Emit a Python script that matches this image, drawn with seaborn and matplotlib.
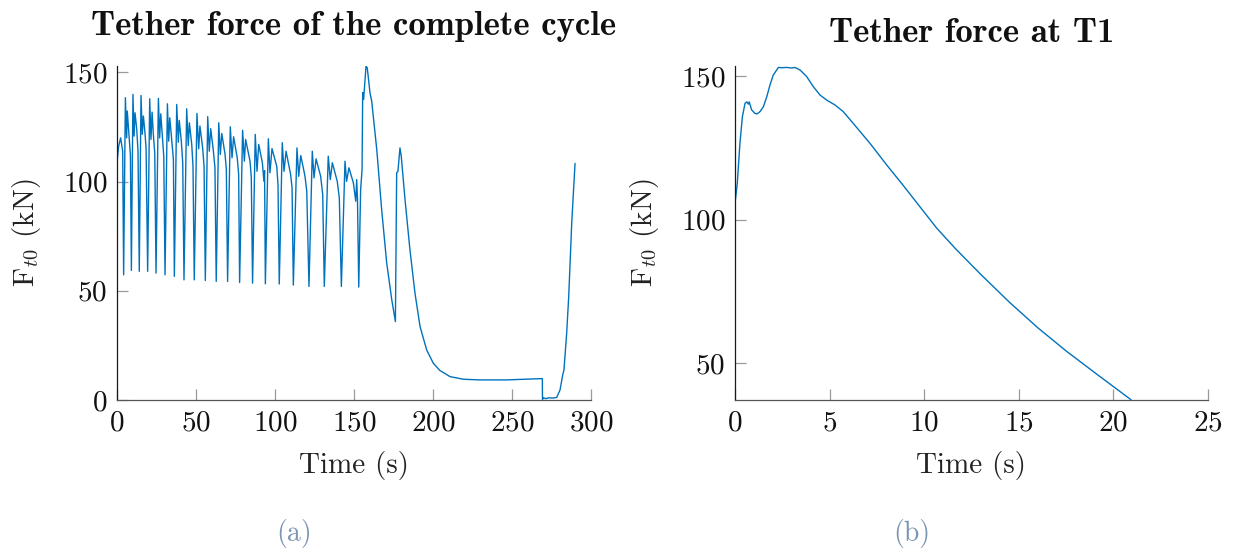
import matplotlib
matplotlib.use("Agg")
import matplotlib.pyplot as plt
import seaborn as sns
import pandas as pd

# Tether force over the complete cycle (s, kN)
cycle_time = [
    0.0, 1.0, 2.3, 3.6, 4.2,
    5.3, 6.1, 6.5, 7.4, 8.5, 9.1,
    10.1, 10.8, 11.4, 12.5, 13.3, 14.1,
    15.2, 16.0, 16.7, 17.7, 18.4, 19.4,
    20.7, 21.5, 22.2, 23.0, 23.9, 24.7,
    26.2, 27.0, 27.7, 28.7, 29.6, 30.4,
    31.9, 32.7, 33.4, 34.6, 35.7, 36.3,
    37.8, 38.8, 39.4, 40.7, 41.6, 42.4,
    44.1, 45.1, 45.8, 47.3, 48.1, 48.9,
    50.6, 51.7, 52.5, 54.2, 55.1, 55.9,
    57.4, 58.4, 59.3, 60.9, 62.0, 62.8,
    64.4, 65.4, 66.3, 68.4, 69.2, 70.0,
    71.7, 72.8, 73.8, 76.1, 77.0, 77.6,
    79.5, 80.6, 81.4, 84.2, 85.0, 85.8,
    87.5, 88.6, 89.7, 92.0, 93.0, 93.4, 93.9,
    95.8, 96.8, 98.1, 101.1, 101.9, 102.7,
    104.6, 105.7, 107.0, 109.9, 110.8, 111.6,
    113.9, 115.0, 116.3, 119.0, 120.1, 121.5,
    123.6, 124.7, 126.0, 128.9, 130.2, 131.2,
    133.7, 135.0, 136.3, 139.4, 140.7, 142.0,
    144.3, 145.3, 146.8, 149.6, 151.1, 151.7, 152.2, 153.0,
    154.2, 155.1, 155.5, 156.1, 156.4, 157.6, 158.4, 160.1, 161.2,
    164.4, 167.5, 170.7, 173.9, 176.2,
    177.0, 177.8, 179.1, 179.9, 182.3, 185.4, 188.6, 191.8, 196.0,
    200.2, 204.4, 210.8, 219.2, 229.7, 246.6, 269.2,
    269.3, 270.0, 271.5, 273.0, 276.0, 278.3,
    280.4, 282.1, 282.9, 284.6, 285.9, 287.8, 289.9,
]
cycle_force = [
    108.6, 116.0, 120.0, 113.9, 57.3,
    138.4, 120.0, 132.3, 123.1, 112.0, 59.3,
    139.9, 120.8, 131.5, 123.9, 113.9, 58.9,
    139.4, 121.6, 130.0, 122.3, 115.4, 58.9,
    137.9, 119.3, 131.8, 121.6, 113.1, 58.1,
    138.1, 120.0, 131.0, 120.8, 111.6, 57.3,
    135.6, 118.5, 129.2, 119.3, 110.1, 56.6,
    135.3, 118.0, 128.0, 118.5, 108.6, 55.0,
    133.3, 116.5, 126.9, 117.0, 107.0, 55.0,
    131.2, 115.0, 125.4, 115.4, 107.0, 54.7,
    129.7, 113.9, 124.2, 114.7, 106.3, 54.3,
    126.9, 112.4, 122.0, 112.4, 105.5, 54.3,
    125.1, 110.9, 120.5, 110.9, 103.2, 53.8,
    123.5, 109.3, 119.3, 109.3, 101.7, 53.5,
    121.6, 104.7, 117.0, 108.6, 100.1, 105.0, 53.2,
    119.6, 104.0, 115.1, 107.0, 98.6, 53.1,
    117.8, 104.7, 113.9, 103.2, 97.1, 52.6,
    115.4, 102.4, 111.9, 102.4, 95.6, 52.0,
    113.9, 101.7, 110.4, 102.4, 94.0, 52.0,
    111.6, 100.9, 108.6, 100.1, 92.5, 52.0,
    109.3, 100.1, 106.3, 99.4, 91.0, 100.9, 92.0, 51.7,
    96.3, 105.5, 140.7, 137.6, 140.7, 152.9, 152.0, 140.7, 136.8,
    114.7, 87.2, 62.7, 45.9, 35.9,
    104.0, 104.7, 115.4, 111.6, 91.7, 68.8, 48.9, 33.6, 22.9,
    16.8, 13.5, 10.7, 9.5, 9.2, 9.2, 9.8,
    0.3, 1.0, 0.6, 1.0, 0.9, 1.2,
    4.6, 11.5, 13.8, 30.6, 47.4, 81.0, 108.3,
]

# Tether force during phase T1 (s, kN)
t1_time = [
    0.0, 0.12, 0.26, 0.39, 0.53, 0.62, 0.70, 0.75, 0.88, 0.97, 1.05, 1.15,
    1.25, 1.32, 1.50, 1.68, 1.85, 2.02, 2.29, 2.50, 2.73, 3.00, 3.17, 3.44,
    3.79, 4.14, 4.49, 4.85, 5.29, 5.72, 6.25, 7.14, 8.02, 8.90, 9.78, 10.66,
    11.63, 13.0, 14.5, 16.0, 17.5, 19.0, 20.93,
]
t1_force = [
    105.6, 112.6, 126.5, 135.8, 140.5, 141.0, 140.2, 141.0, 138.2, 137.6, 137.0, 136.8,
    137.2, 137.6, 139.3, 142.8, 146.9, 150.3, 153.0, 152.9, 153.0, 152.8, 153.0, 152.1,
    149.8, 146.3, 143.4, 141.6, 139.9, 137.6, 133.5, 126.5, 119.0, 111.8, 104.4, 97.0,
    90.0, 80.8, 71.2, 62.3, 54.2, 46.7, 37.2,
]

x_ticks_a = [0, 50, 100, 150, 200, 250, 300]
y_ticks_a = [0, 50, 100, 150]
x_ticks_b = [0, 5, 10, 15, 20, 25]
y_ticks_b = [50, 100, 150]

sns.set_theme(style="white")
plt.rcParams.update({
    "font.family": "serif",
    "font.serif": ["cmr10"],
    "mathtext.fontset": "cm",
    "axes.formatter.use_mathtext": True,
    "axes.unicode_minus": False,
})

line_color = "#0072BD"
df_a = pd.DataFrame({"t": cycle_time, "F": cycle_force})
df_b = pd.DataFrame({"t": t1_time, "F": t1_force})

fig = plt.figure(figsize=(12.34, 5.5), dpi=100)
ax1 = fig.add_axes([117 / 1234, 150 / 550, 474 / 1234, 334 / 550])
ax2 = fig.add_axes([735 / 1234, 150 / 550, 473 / 1234, 334 / 550])

sns.lineplot(data=df_a, x="t", y="F", ax=ax1, color=line_color, linewidth=1.0,
             sort=False, estimator=None)
sns.lineplot(data=df_b, x="t", y="F", ax=ax2, color=line_color, linewidth=1.0,
             sort=False, estimator=None)

ax1.set_xlim(0, 300)
ax1.set_ylim(0, 152.9)
ax1.set_xticks(x_ticks_a)
ax1.set_yticks(y_ticks_a)
ax2.set_xlim(0, 25)
ax2.set_ylim(37.1, 153.5)
ax2.set_xticks(x_ticks_b)
ax2.set_yticks(y_ticks_b)

for ax in (ax1, ax2):
    ax.spines["top"].set_visible(False)
    ax.spines["right"].set_visible(False)
    ax.spines["left"].set_color("#1a1a1a")
    ax.spines["bottom"].set_color("#555555")
    ax.spines["left"].set_linewidth(0.9)
    ax.spines["bottom"].set_linewidth(0.9)
    ax.tick_params(direction="in", length=8, width=0.9, color="#9a9a9a",
                   labelsize=21, labelcolor="#111111", pad=7,
                   bottom=True, left=True)
    ax.set_xlabel("Time (s)", fontsize=21, color="#222222", labelpad=11)
    ax.set_ylabel(r"F$_{t0}$ (kN)", fontsize=21, color="#222222", labelpad=14)
    ax.grid(False)

ax1.set_title("Tether force of the complete cycle", fontfamily="cmb10",
              fontsize=25, color="#111111", pad=22)
ax2.set_title("Tether force at T1", fontfamily="cmb10",
              fontsize=25, color="#111111", pad=17)

caption_color = "#7b95b3"
fig.text(294 / 1234, 1 - 533 / 550, "(a)", ha="center", va="center",
         fontsize=20, color=caption_color)
fig.text(912 / 1234, 1 - 533 / 550, "(b)", ha="center", va="center",
         fontsize=20, color=caption_color)

fig.savefig("out.png", dpi=100, facecolor="white")
